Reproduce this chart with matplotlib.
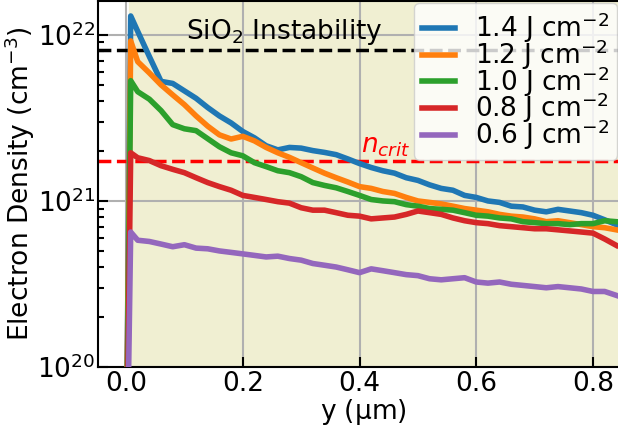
import matplotlib
matplotlib.use("Agg")
import matplotlib.pyplot as plt
import numpy as np

# position along y (um)
y_um = [-0.004, 0.008, 0.02, 0.04, 0.06, 0.08, 0.10, 0.12, 0.14, 0.16, 0.18, 0.20,
        0.22, 0.24, 0.26, 0.28, 0.30, 0.32, 0.34, 0.36, 0.38, 0.40,
        0.42, 0.44, 0.46, 0.48, 0.50, 0.52, 0.54, 0.56, 0.58, 0.60,
        0.62, 0.64, 0.66, 0.68, 0.70, 0.72, 0.74, 0.76, 0.78, 0.80,
        0.82, 0.84]

# electron density in units of 1e21 cm^-3
n_14 = [0.001, 13.0, 10.5, 7.4, 5.25, 5.1, 4.6, 4.15, 3.65, 3.25, 2.95, 2.62,
        2.40, 2.15, 2.03, 2.10, 2.08, 2.01, 1.96, 1.90, 1.79, 1.68,
        1.59, 1.52, 1.47, 1.38, 1.33, 1.25, 1.19, 1.16, 1.08, 1.05,
        1.00, 0.98, 0.93, 0.92, 0.88, 0.86, 0.89, 0.87, 0.85, 0.82,
        0.77, 0.72]
n_12 = [0.001, 9.2, 6.9, 5.9, 5.0, 4.35, 3.8, 3.25, 2.82, 2.50, 2.36, 2.45,
        2.30, 2.10, 1.95, 1.83, 1.70, 1.58, 1.47, 1.38, 1.30, 1.22,
        1.19, 1.14, 1.11, 1.05, 1.00, 0.98, 0.96, 0.93, 0.90, 0.88,
        0.86, 0.83, 0.81, 0.80, 0.78, 0.75, 0.76, 0.74, 0.72, 0.70,
        0.69, 0.67]
n_10 = [0.001, 5.3, 4.55, 4.1, 3.5, 2.88, 2.72, 2.65, 2.37, 2.12, 1.95, 1.87,
        1.70, 1.61, 1.52, 1.48, 1.40, 1.29, 1.24, 1.20, 1.14, 1.08,
        1.02, 1.00, 0.99, 0.95, 0.93, 0.90, 0.89, 0.88, 0.85, 0.82,
        0.81, 0.79, 0.78, 0.75, 0.74, 0.73, 0.73, 0.72, 0.73, 0.73,
        0.76, 0.75]
n_08 = [0.001, 1.95, 1.82, 1.75, 1.63, 1.55, 1.48, 1.38, 1.29, 1.22, 1.16, 1.08,
        1.05, 1.02, 0.99, 0.97, 0.91, 0.88, 0.88, 0.85, 0.82, 0.81,
        0.78, 0.79, 0.80, 0.83, 0.87, 0.85, 0.83, 0.79, 0.76, 0.74,
        0.73, 0.71, 0.70, 0.69, 0.68, 0.68, 0.67, 0.66, 0.65, 0.64,
        0.59, 0.54]
n_06 = [0.001, 0.65, 0.58, 0.57, 0.55, 0.53, 0.545, 0.52, 0.515, 0.50, 0.49, 0.48,
        0.47, 0.46, 0.465, 0.45, 0.44, 0.42, 0.41, 0.40, 0.385, 0.37,
        0.39, 0.38, 0.37, 0.36, 0.355, 0.34, 0.335, 0.34, 0.345, 0.325,
        0.32, 0.325, 0.315, 0.31, 0.305, 0.30, 0.305, 0.30, 0.295, 0.285,
        0.285, 0.27]

fluences = ["1.4", "1.2", "1.0", "0.8", "0.6"]
series = [n_14, n_12, n_10, n_08, n_06]

n_sio2 = 8.1e21   # SiO2 instability
n_crit = 1.74e21  # critical density

FS = 19

fig = plt.figure(figsize=(6.18, 4.30), dpi=100)
ax = fig.add_axes([0.1586, 0.1465, 0.8576, 0.8512])

# shaded target region
ax.axvspan(0.005, 1.0, color='#f0efd2', zorder=0)

for f, n in zip(fluences, series):
    ax.plot(y_um, np.array(n) * 1e21, lw=4, label=f + r" J cm$^{-2}$", zorder=3)

ax.axhline(n_sio2, color='black', ls='--', lw=2.5, zorder=2)
ax.axhline(n_crit, color='red', ls='--', lw=2.5, zorder=2)
ax.text(0.103, 8.5e21, r"SiO$_2$ Instability", fontsize=FS, ha='left', va='bottom')
ax.text(0.403, 1.8e21, r"$n_{crit}$", fontsize=FS, color='red', ha='left', va='bottom')

ax.set_yscale('log')
ax.set_ylim(1e20, 1.6e22)
ax.set_xlim(-0.048, 0.86)
ax.set_xticks([0.0, 0.2, 0.4, 0.6, 0.8])

ax.set_xlabel(r"y ($\mathregular{\mu}$m)", fontsize=FS, labelpad=0)
ax.set_ylabel(r"Electron Density (cm$^{-3}$)", fontsize=FS, labelpad=0)

ax.grid(True, which='major', color='#b0b0b0', lw=1.5, zorder=1)
ax.set_axisbelow(True)
ax.tick_params(which='both', direction='in', labelsize=FS, width=1.5)
ax.tick_params(which='major', length=7)
ax.tick_params(which='minor', length=4)
ax.tick_params(axis='y', pad=2)
ax.tick_params(axis='x', pad=3)
for s in ax.spines.values():
    s.set_linewidth(1.5)

fig.legend(loc='upper right', bbox_to_anchor=(0.999, 0.993), borderaxespad=0,
           fontsize=FS, labelspacing=-0.3, handlelength=1.25, handletextpad=0.75,
           borderpad=0.3)

fig.savefig("out.png", dpi=100)
